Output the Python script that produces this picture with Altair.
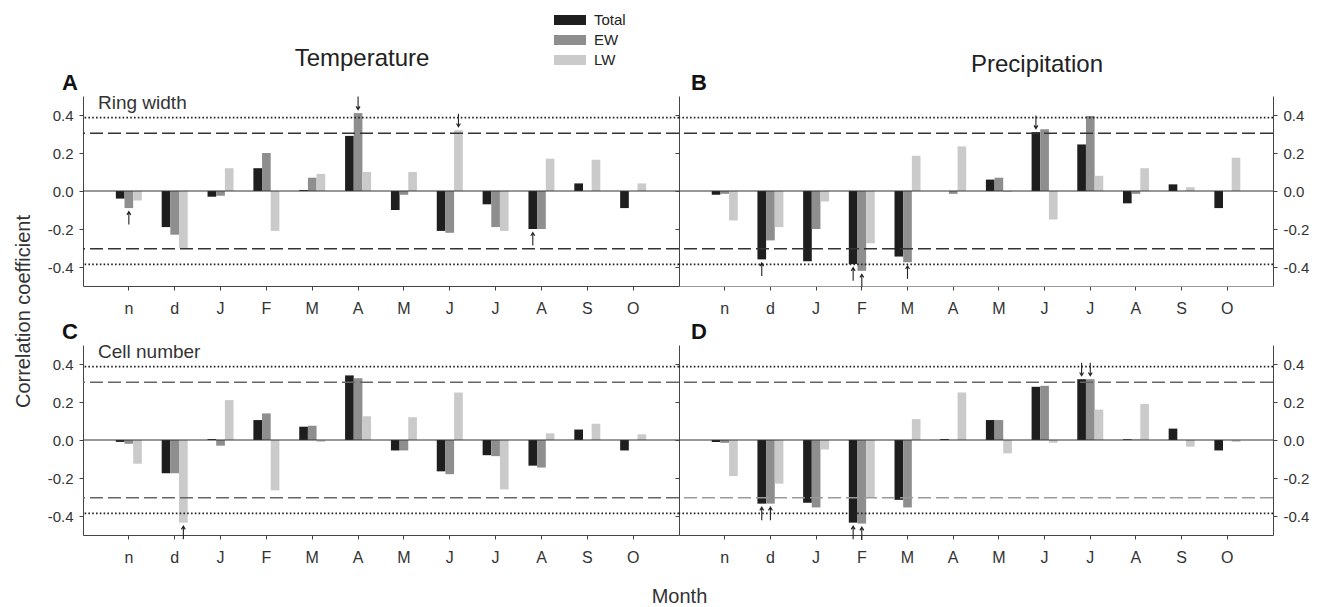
import altair as alt
import pandas as pd

FONT = "Liberation Sans"

# ---------------- data ----------------
month_labels = ["n", "d", "J", "F", "M", "A", "M", "J", "J", "A", "S", "O"]
series = ["Total", "EW", "LW"]
series_colors = ["#1e1e1e", "#8e8e8e", "#cacaca"]

# A: Temperature / Ring width
temp_rw_total = [-0.04, -0.19, -0.03, 0.12, 0.005, 0.29, -0.10, -0.21, -0.07, -0.20, 0.04, -0.09]
temp_rw_ew = [-0.09, -0.23, -0.025, 0.20, 0.07, 0.41, -0.02, -0.22, -0.19, -0.20, 0.0, 0.0]
temp_rw_lw = [-0.05, -0.30, 0.12, -0.21, 0.09, 0.10, 0.10, 0.32, -0.21, 0.17, 0.165, 0.04]

# B: Precipitation / Ring width
prec_rw_total = [-0.02, -0.36, -0.37, -0.385, -0.345, 0.0, 0.06, 0.31, 0.245, -0.065, 0.035, -0.09]
prec_rw_ew = [-0.015, -0.26, -0.20, -0.42, -0.375, -0.015, 0.07, 0.325, 0.395, -0.015, 0.0, 0.0]
prec_rw_lw = [-0.155, -0.19, -0.055, -0.275, 0.185, 0.235, -0.005, -0.15, 0.08, 0.12, 0.02, 0.175]

# C: Temperature / Cell number
temp_cn_total = [-0.01, -0.175, 0.005, 0.105, 0.07, 0.34, -0.055, -0.165, -0.08, -0.135, 0.055, -0.055]
temp_cn_ew = [-0.02, -0.175, -0.03, 0.14, 0.075, 0.325, -0.055, -0.18, -0.085, -0.145, 0.0, 0.0]
temp_cn_lw = [-0.125, -0.435, 0.21, -0.265, -0.01, 0.125, 0.12, 0.25, -0.26, 0.035, 0.085, 0.03]

# D: Precipitation / Cell number
prec_cn_total = [-0.01, -0.335, -0.33, -0.435, -0.315, 0.005, 0.105, 0.28, 0.32, 0.004, 0.06, -0.055]
prec_cn_ew = [-0.015, -0.335, -0.355, -0.44, -0.355, 0.0, 0.105, 0.285, 0.32, 0.002, 0.0, 0.0]
prec_cn_lw = [-0.19, -0.23, -0.05, -0.30, 0.11, 0.25, -0.07, -0.015, 0.16, 0.19, -0.035, -0.01]

dotted_level = 0.386
dashed_level = 0.304
y_ticks = [-0.4, -0.2, 0.0, 0.2, 0.4]

# shade of the upper / lower dashed lines per panel
dashed_shades = {"A": ("#333333", "#333333"), "B": ("#333333", "#333333"),
                 "C": ("#666666", "#666666"), "D": ("#666666", "#9a9a9a")}

# significant bars marked with arrows: (month index, series, direction)
arrow_marks = {
    "A": [(0, "EW", "up"), (5, "EW", "down"), (7, "LW", "down"), (9, "Total", "up")],
    "B": [(1, "Total", "up"), (3, "Total", "up"), (3, "EW", "up"), (4, "EW", "up"), (7, "Total", "down")],
    "C": [(1, "LW", "up")],
    "D": [(1, "Total", "up"), (1, "EW", "up"), (3, "Total", "up"), (3, "EW", "up"),
          (8, "Total", "down"), (8, "EW", "down")],
}

panel_values = {
    "A": (temp_rw_total, temp_rw_ew, temp_rw_lw),
    "B": (prec_rw_total, prec_rw_ew, prec_rw_lw),
    "C": (temp_cn_total, temp_cn_ew, temp_cn_lw),
    "D": (prec_cn_total, prec_cn_ew, prec_cn_lw),
}

rows = []
for p, vals in panel_values.items():
    for s, arr in zip(series, vals):
        for i, v in enumerate(arr):
            rows.append({"panel": p, "midx": i, "series": s, "value": v})
bars_df = pd.DataFrame(rows)

arr_rows = []
for p, lst in arrow_marks.items():
    for i, s, d in lst:
        v = bars_df[(bars_df.panel == p) & (bars_df.midx == i) & (bars_df.series == s)].value.iloc[0]
        arr_rows.append({"panel": p, "midx": i, "series": s, "value": v, "dir": d})
arrows_df = pd.DataFrame(arr_rows)

dotted_df = pd.DataFrame({"y": [dotted_level, -dotted_level]})
dashed_rows = []
for p, (up_c, lo_c) in dashed_shades.items():
    dashed_rows.append({"panel": p, "y": dashed_level, "shade": up_c})
    dashed_rows.append({"panel": p, "y": -dashed_level, "shade": lo_c})
dashed_df = pd.DataFrame(dashed_rows)
zero_df = pd.DataFrame({"y": [0.0]})

# ---------------- helpers ----------------
H = 190
mlab_expr = "[" + ",".join("'%s'" % m for m in month_labels) + "][datum.value]"
ylab_expr = "datum.value < 0 ? '-' + format(-datum.value, '.1f') : format(datum.value, '.1f')"

y_scale = alt.Scale(domain=[-0.5, 0.5], nice=False, zero=False)
x_scale = alt.Scale(paddingInner=0.433, paddingOuter=0.7165)
off_scale = alt.Scale(domain=series, paddingInner=0, paddingOuter=0)
color_scale = alt.Scale(domain=series, range=series_colors)

ARROW_UP = "M0,1L0,-1M-0.3,-0.5L0,-1L0.3,-0.5"
ARROW_DOWN = "M0,-1L0,1M-0.3,0.5L0,1L0.3,0.5"

legend = alt.Legend(
    title=None, orient="none", legendX=477, legendY=-86, direction="vertical",
    symbolType="M-1.6,-0.5H1.6V0.5H-1.6Z", symbolSize=400, symbolStrokeWidth=0,
    labelOffset=14, labelFontSize=15, labelFont=FONT, labelColor="#222", rowPadding=2,
)


def yaxis(orient="left", labels=True, title=None):
    kw = dict(orient=orient, values=y_ticks, labelExpr=ylab_expr, labels=labels, tickSize=4,
              labelPadding=6, domainColor="#444", tickColor="#444", labelColor="#333",
              labelFontSize=15, labelFont=FONT, grid=False, title=None)
    if title:
        kw.update(title=title, titleY=215, titleFontSize=20, titleFontWeight="normal",
                  titlePadding=14, titleColor="#333", titleFont=FONT)
    return alt.Axis(**kw)


def xaxis(width, title=None, domain_color="#444"):
    kw = dict(labelExpr=mlab_expr, labelAngle=0, tickSize=4, labelPadding=10, labelFontSize=16,
              labelFont=FONT, domainColor=domain_color, tickColor="#444", labelColor="#333",
              grid=False, title=None)
    if title:
        kw.update(title=title, titleX=width, titleY=61, titleBaseline="middle", titleAlign="center",
                  titleFontSize=20, titleFontWeight="normal", titleColor="#333", titleFont=FONT)
    return alt.Axis(**kw)


def note(text, x, y, size, weight="normal", align="center", color="#222"):
    return alt.Chart(pd.DataFrame({"t": [text]})).mark_text(
        fontSize=size, fontWeight=weight, font=FONT, align=align, baseline="middle", color=color
    ).encode(x=alt.value(x), y=alt.value(y), text="t:N")


def make_panel(key, width, letter, letter_x, right_side, title=None, title_x=0, title_y=0,
               sub=None, ytitle=None, xtitle=None, x_domain_color="#444"):
    xax = xaxis(width, xtitle, x_domain_color)
    if right_side:
        y_main = yaxis("left", labels=False)
        y_other = None
        y_right = yaxis("right")
    else:
        y_main = yaxis("left", labels=True, title=ytitle)
        y_other = y_main
        y_right = y_main
    xenc = alt.X("midx:O", scale=x_scale, axis=xax)
    offenc = alt.XOffset("series:N", scale=off_scale, sort=series)
    bars = alt.Chart(bars_df).transform_filter(alt.datum.panel == key).mark_bar().encode(
        x=xenc, xOffset=offenc,
        y=alt.Y("value:Q", scale=y_scale, axis=y_main),
        color=alt.Color("series:N", scale=color_scale, sort=series, legend=legend),
    )
    dotted = alt.Chart(dotted_df).mark_rule(strokeDash=[1.6, 2.2], strokeWidth=1.6, color="#222").encode(
        y=alt.Y("y:Q", scale=y_scale, axis=y_other))
    dashed = alt.Chart(dashed_df).transform_filter(alt.datum.panel == key).mark_rule(
        strokeDash=[13, 5], strokeWidth=1.3).encode(
        y=alt.Y("y:Q", scale=y_scale, axis=y_other),
        stroke=alt.Stroke("shade:N", scale=None))
    zero = alt.Chart(zero_df).mark_rule(strokeWidth=1.1, color="#333").encode(
        y=alt.Y("y:Q", scale=y_scale, axis=y_right))
    up = alt.Chart(arrows_df).transform_filter(
        (alt.datum.panel == key) & (alt.datum.dir == "up")
    ).mark_point(shape=ARROW_UP, size=169, filled=False, strokeWidth=1.1, color="#222", opacity=1).encode(
        x=xenc, xOffset=offenc,
        y=alt.Y("value:Q", scale=y_scale, axis=y_other),
        yOffset=alt.value(10),
    )
    down = alt.Chart(arrows_df).transform_filter(
        (alt.datum.panel == key) & (alt.datum.dir == "down")
    ).mark_point(shape=ARROW_DOWN, size=169, filled=False, strokeWidth=1.1, color="#222", opacity=1).encode(
        x=xenc, xOffset=offenc,
        y=alt.Y("value:Q", scale=y_scale, axis=y_other),
        yOffset=alt.value(-10),
    )
    layers = [bars, dotted, dashed, zero, up, down, note(letter, letter_x, -13, 22, "bold", color="#111")]
    if title:
        layers.append(note(title, title_x, title_y, 24, color="#222"))
    if sub:
        layers.append(note(sub, 15, 7, 19, align="left", color="#333"))
    ch = alt.layer(*layers).properties(width=width, height=H)
    if right_side:
        ch = ch.resolve_axis(y="independent")
    return ch


pA = make_panel("A", 596, "A", -13, False, title="Temperature", title_x=279, title_y=-37,
                sub="Ring width", ytitle="Correlation coefficient")
pB = make_panel("B", 594, "B", 20, True, title="Precipitation", title_x=358, title_y=-31,
                x_domain_color="#999")
pC = make_panel("C", 596, "C", -13, False, sub="Cell number", xtitle="Month")
pD = make_panel("D", 594, "D", 20, True)

chart = alt.concat(
    pA, pB, pC, pD, columns=2, spacing={"row": 59, "column": 0}, bounds="flush",
    padding={"left": 5, "top": 2, "right": 5, "bottom": 0},
).configure_view(stroke=None)

chart.save("out.html", embed_options={"renderer": "svg", "actions": False})
